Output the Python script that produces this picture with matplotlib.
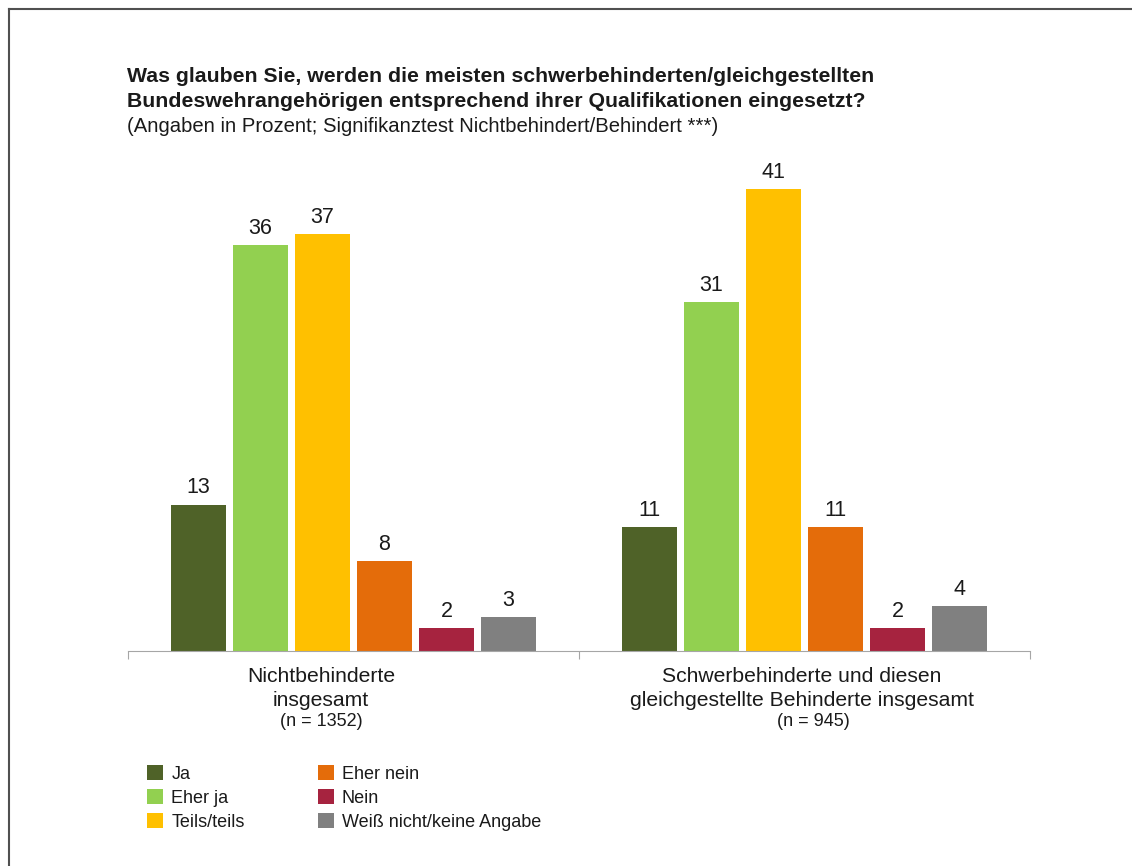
import matplotlib.pyplot as plt
import numpy as np
from matplotlib.lines import Line2D
from matplotlib.transforms import blended_transform_factory, offset_copy

plt.rcParams['font.family'] = ['Liberation Sans', 'DejaVu Sans']

# data
groups = ['Nichtbehinderte\ninsgesamt',
          'Schwerbehinderte und diesen\ngleichgestellte Behinderte insgesamt']
group_n = ['(n = 1352)', '(n = 945)']
answers = ['Ja', 'Eher ja', 'Teils/teils', 'Eher nein', 'Nein',
           'Weiß nicht/keine Angabe']
values = {
    'Ja': [13, 11],
    'Eher ja': [36, 31],
    'Teils/teils': [37, 41],
    'Eher nein': [8, 11],
    'Nein': [2, 2],
    'Weiß nicht/keine Angabe': [3, 4],
}
colors = ['#4f6228', '#92d050', '#ffc000', '#e46c0a', '#a6233f', '#808080']

W, H = 1132, 866
fig = plt.figure(figsize=(W / 100, H / 100), dpi=100)

# frame lines top and left
fig.add_artist(Line2D([8.5 / W, 1], [1 - 8.5 / H, 1 - 8.5 / H], color='#505050', lw=1.5,
                      transform=fig.transFigure))
fig.add_artist(Line2D([8.5 / W, 8.5 / W], [0, 1 - 8.5 / H], color='#505050', lw=1.5,
                      transform=fig.transFigure))

txt = '#1a1a1a'
fig.text(127 / W, 1 - 82 / H, 'Was glauben Sie, werden die meisten schwerbehinderten/gleichgestellten',
         fontsize=15.3, fontweight='bold', va='baseline', color=txt)
fig.text(127 / W, 1 - 107 / H, 'Bundeswehrangehörigen entsprechend ihrer Qualifikationen eingesetzt?',
         fontsize=15.3, fontweight='bold', va='baseline', color=txt)
fig.text(127 / W, 1 - 132 / H, '(Angaben in Prozent; Signifikanztest Nichtbehindert/Behindert ***)',
         fontsize=14.6, va='baseline', color=txt)

ax = fig.add_axes([128 / W, (H - 651) / H, 902 / W, 507 / H])
x = np.arange(len(groups))
width = 0.124
step = 0.1375
bars = []
for i, (name, c) in enumerate(zip(answers, colors)):
    pos = x + (i - 2.5) * step
    b = ax.bar(pos, values[name], width=width, color=c, label=name)
    bars.append(b)
    for p, v in zip(pos, values[name]):
        ax.annotate(str(v), (p, v), xytext=(0, 8), textcoords='offset points',
                    ha='center', va='baseline', fontsize=15.5, color=txt)

ax.set_xlim(-0.5, 1.5)
ax.set_ylim(0, 45)
for s in ['top', 'right', 'left']:
    ax.spines[s].set_visible(False)
ax.spines['bottom'].set_color('#a6a6a6')
ax.set_yticks([])
ax.set_xticks([-0.5, 0.5, 1.5])
ax.set_xticklabels([])
ax.tick_params(axis='x', length=6, color='#a6a6a6')

# category labels (placed line by line, slightly off-centre like the original)
tr = blended_transform_factory(ax.transData, ax.transAxes)
label_dx = [-32.5, -3]
n_dx = [-32.5, 8.5]
for xi, g, n, dx, ndx in zip(x, groups, group_n, label_dx, n_dx):
    for k, line in enumerate(g.split('\n')):
        ax.text(xi, 0, line, transform=offset_copy(tr, fig=fig, x=dx, y=-(30.5 + 24 * k), units='dots'),
                ha='center', va='baseline', fontsize=15.2, color=txt)
    ax.text(xi, 0, n, transform=offset_copy(tr, fig=fig, x=ndx, y=-75.5, units='dots'),
            ha='center', va='baseline', fontsize=13, color=txt)

fig.legend(handles=bars, labels=answers, ncol=2, frameon=False,
           loc='upper left', bbox_to_anchor=(138 / W, 1 - 756 / H),
           fontsize=13, handlelength=0.9, handleheight=0.9, handletextpad=0.44,
           columnspacing=4.05, labelspacing=0.36, borderpad=0, labelcolor=txt)

fig.savefig('out.png', dpi=100)
